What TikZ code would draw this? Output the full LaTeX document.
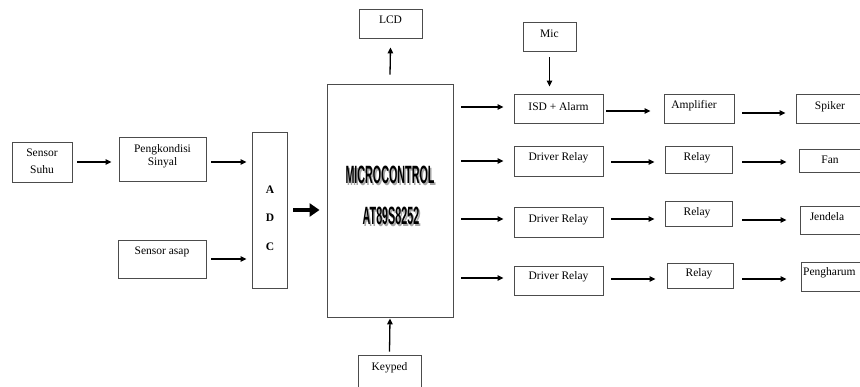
\documentclass[tikz,border=0pt]{standalone}
\usepackage{fontspec}
\setmainfont{Liberation Serif}
\newfontfamily\mcfont{Liberation Sans}
\usetikzlibrary{arrows.meta}
\tikzset{
  box/.style={draw=black!70, line width=0.9pt, rectangle, inner sep=0pt},
  lbl/.style={font=\fontsize{11.5}{14}\selectfont, inner sep=0pt, align=center},
  arr/.style={draw=black, line width=1.3pt, -{Triangle[length=6pt,width=5.5pt]}},
  bigarr/.style={draw=black, line width=4pt, -{Triangle[length=10pt,width=13pt]}},
}
\newcommand{\bx}[5]{\node[box, minimum width=#4pt, minimum height=#5pt] (#1) at (#2,#3) {};}
\begin{document}
\begin{tikzpicture}[x=1pt,y=-1pt]
\useasboundingbox (0,0) rectangle (860,387);
\clip (0,0) rectangle (860,387);
% boxes
\bx{suhu}{42}{162}{60}{40}
\bx{peng}{162.5}{159}{87}{44}
\bx{asap}{162}{259}{88}{38}
\bx{adc}{269.5}{210}{35}{156}
\bx{mc}{390}{200.5}{126}{233}
\bx{lcd}{390.5}{23.5}{63}{29}
\bx{key}{389.5}{375}{63}{40}
\bx{mic}{549.5}{36.5}{53}{29}
\bx{isd}{558.5}{108.5}{89}{29}
\bx{dra}{558.5}{161}{89}{30}
\bx{drb}{558.5}{222}{89}{30}
\bx{drc}{558.5}{280.5}{89}{29}
\bx{amp}{699}{108.5}{70}{29}
\bx{rla}{698.5}{159.5}{67}{27}
\bx{rlb}{698.5}{213.5}{67}{25}
\bx{rlc}{700}{275.5}{66}{25}
\bx{spk}{836}{108.5}{80}{29}
\bx{fan}{837}{160.5}{76}{23}
\bx{jen}{838}{220}{76}{28}
\bx{phg}{839}{276.5}{76}{29}
% texts
\node[lbl, font=\fontsize{11.5}{17}\selectfont] (tsuhu) at (42,161) {Sensor\\Suhu};
\node[lbl, font=\fontsize{11.5}{13}\selectfont] (tpeng) at (162.5,156) {Pengkondisi\\Sinyal};
\node[lbl] (tasap) at (162,252) {Sensor asap};
\node[lbl, font=\fontsize{11.5}{14}\selectfont\bfseries] (ta) at (270,190) {A};
\node[lbl, font=\fontsize{11.5}{14}\selectfont\bfseries] (td) at (270,218) {D};
\node[lbl, font=\fontsize{11.5}{14}\selectfont\bfseries] (tc) at (270,247) {C};
\node[lbl] (tlcd) at (390.5,20) {LCD};
\node[lbl] (tkey) at (389.5,368) {Keyped};
\node[lbl] (tmic) at (549.5,34) {Mic};
\node[lbl] (tisd) at (558.5,107) {ISD + Alarm};
\node[lbl] (tdra) at (558.5,158) {Driver Relay};
\node[lbl] (tdrb) at (558.5,220) {Driver Relay};
\node[lbl] (tdrc) at (558.5,277) {Driver Relay};
\node[lbl] (tamp) at (694,106) {Amplifier};
\node[lbl] (trla) at (697,158) {Relay};
\node[lbl] (trlb) at (697,213) {Relay};
\node[lbl] (trlc) at (699,274) {Relay};
\node[lbl] (tspk) at (830,107) {Spiker};
\node[lbl] (tfan) at (830,160) {Fan};
\node[lbl] (tjen) at (827,217) {Jendela};
\node[lbl, anchor=west] (tphg) at (803,273) {Pengharum};
% microcontroller label with shadow
\node[font=\mcfont\fontsize{25}{28}\selectfont\bfseries, text=black!35, xscale=0.43, inner sep=0pt] (mcsa) at (391.5,176.5) {MICROCONTROL};
\node[font=\mcfont\fontsize{25}{28}\selectfont\bfseries, text=black, xscale=0.43, inner sep=0pt] (mcta) at (390,175) {MICROCONTROL};
\node[font=\mcfont\fontsize{25}{28}\selectfont\bfseries, text=black!35, xscale=0.43, inner sep=0pt] (mcsb) at (392.5,217.5) {AT89S8252};
\node[font=\mcfont\fontsize{25}{28}\selectfont\bfseries, text=black, xscale=0.43, inner sep=0pt] (mctb) at (391,216) {AT89S8252};
% arrows (yshift is in canvas units: positive = up)
\draw[arr] ([xshift=5]suhu.east) -- ([xshift=-7]peng.west |- suhu.east);
\draw[arr] ([xshift=5]peng.east |- suhu.east) -- ([xshift=-5]adc.west |- suhu.east);
\draw[arr] ([xshift=5]asap.east) -- ([xshift=-5]adc.west |- asap.east);
\draw[bigarr] ([xshift=6]adc.east) -- ([xshift=-7]mc.west |- adc.east);
\draw[arr] ([yshift=9]mc.north) -- ([yshift=-9]lcd.south);
\draw[arr] ([yshift=3]key.north) -- ([yshift=-1]mc.south);
\draw[arr] ([yshift=-6]mic.south) -- ([yshift=7]isd.north -| mic.south);
\draw[arr] ([xshift=8,yshift=1.5]mc.east |- isd.west) -- ([xshift=-10,yshift=1.5]isd.west);
\draw[arr] ([xshift=8]mc.east |- dra.west) -- ([xshift=-10]dra.west);
\draw[arr] ([xshift=8,yshift=3]mc.east |- drb.west) -- ([xshift=-10,yshift=3]drb.west);
\draw[arr] ([xshift=8,yshift=2.5]mc.east |- drc.west) -- ([xshift=-10,yshift=2.5]drc.west);
\draw[arr] ([xshift=3,yshift=-2.5]isd.east) -- ([xshift=-13,yshift=-2.5]amp.west |- isd.east);
\draw[arr] ([xshift=8,yshift=-4.5]amp.east) -- ([xshift=-10,yshift=-4.5]spk.west |- amp.east);
\draw[arr] ([xshift=8,yshift=-1]dra.east) -- ([xshift=-10,yshift=-1]rla.west |- dra.east);
\draw[arr] ([xshift=10,yshift=-1]rla.east |- dra.east) -- ([xshift=-12,yshift=-1]fan.west |- dra.east);
\draw[arr] ([xshift=8,yshift=3]drb.east) -- ([xshift=-10,yshift=3]rlb.west |- drb.east);
\draw[arr] ([xshift=10,yshift=2]rlb.east |- drb.east) -- ([xshift=-13,yshift=2]jen.west |- drb.east);
\draw[arr] ([xshift=8,yshift=1.5]drc.east) -- ([xshift=-11,yshift=1.5]rlc.west |- drc.east);
\draw[arr] ([xshift=9,yshift=1.5]rlc.east |- drc.east) -- ([xshift=-14,yshift=1.5]phg.west |- drc.east);
\end{tikzpicture}
\end{document}
